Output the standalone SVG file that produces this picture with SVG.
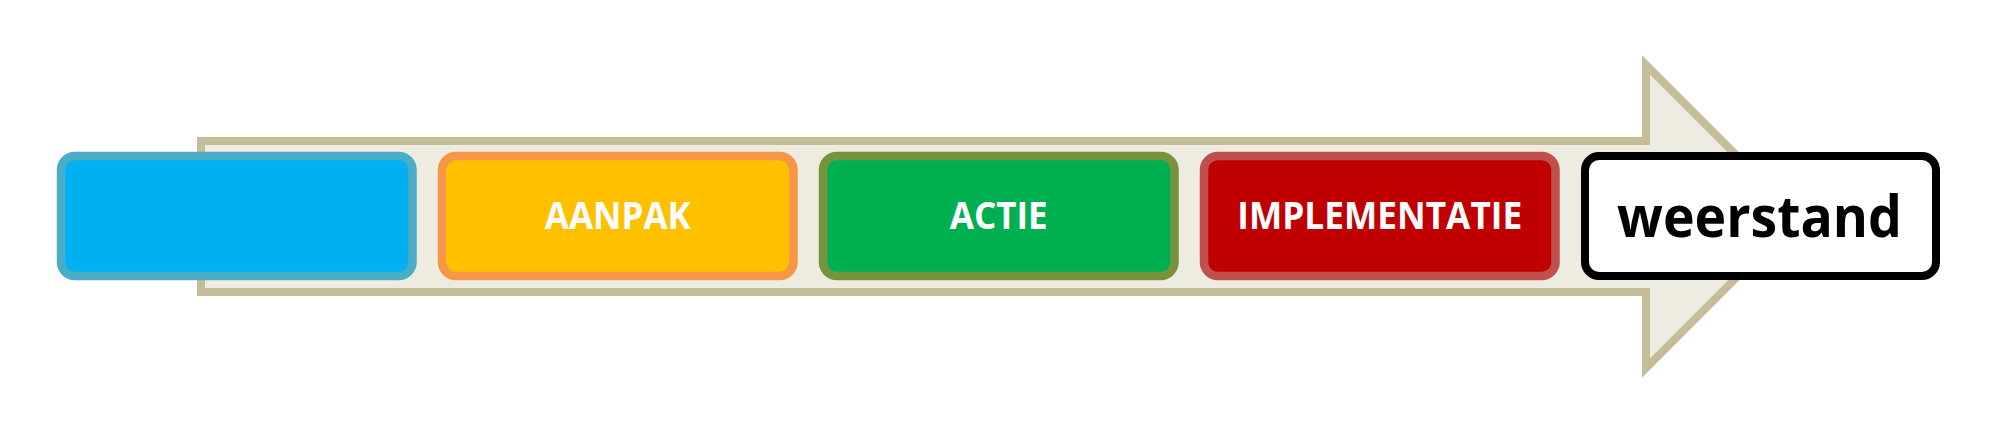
<svg xmlns="http://www.w3.org/2000/svg" width="2010" height="430" viewBox="0 0 2010 430">
<style>
.box{stroke-width:8.5}
.lbl{font-family:"Open Sans","Liberation Sans",sans-serif;font-weight:bold;font-size:37px;fill:#FFFFFF;text-anchor:middle}
.big{font-family:"Open Sans","Liberation Sans",sans-serif;font-weight:bold;font-size:58px;fill:#000000;text-anchor:middle}
</style>
<rect width="2010" height="430" fill="#FFFFFF"/>
<g id="connectors">
<polygon id="arrow" points="201,141 1646,141 1646,65 1797.5,216.5 1646,368 1646,292 201,292" fill="#EEECE1" stroke="#C4BD97" stroke-width="8" stroke-linejoin="miter"/>
</g>
<g id="node-blue">
<rect class="box" x="61" y="156" width="351.5" height="120" rx="14" fill="#00B0F0" stroke="#4BACC6"/>
</g>
<g id="node-aanpak">
<rect class="box" x="442" y="156" width="351.5" height="120" rx="14" fill="#FFC000" stroke="#F79646"/>
<text class="lbl" x="617.75" y="228.5" textLength="146" lengthAdjust="spacingAndGlyphs">AANPAK</text>
</g>
<g id="node-actie">
<rect class="box" x="823" y="156" width="351.5" height="120" rx="14" fill="#00B050" stroke="#77933C"/>
<text class="lbl" x="998.75" y="228.5" textLength="98" lengthAdjust="spacingAndGlyphs">ACTIE</text>
</g>
<g id="node-implementatie">
<rect class="box" x="1204" y="156" width="351.5" height="120" rx="14" fill="#C00000" stroke="#C0504D"/>
<text class="lbl" x="1379.75" y="228.5" textLength="285" lengthAdjust="spacingAndGlyphs">IMPLEMENTATIE</text>
</g>
<g id="node-weerstand">
<rect x="1585" y="156" width="351" height="120" rx="14" fill="#FFFFFF" stroke="#000000" stroke-width="8"/>
<text class="big" x="1759.5" y="236.7" textLength="285" lengthAdjust="spacingAndGlyphs">weerstand</text>
</g>
</svg>
